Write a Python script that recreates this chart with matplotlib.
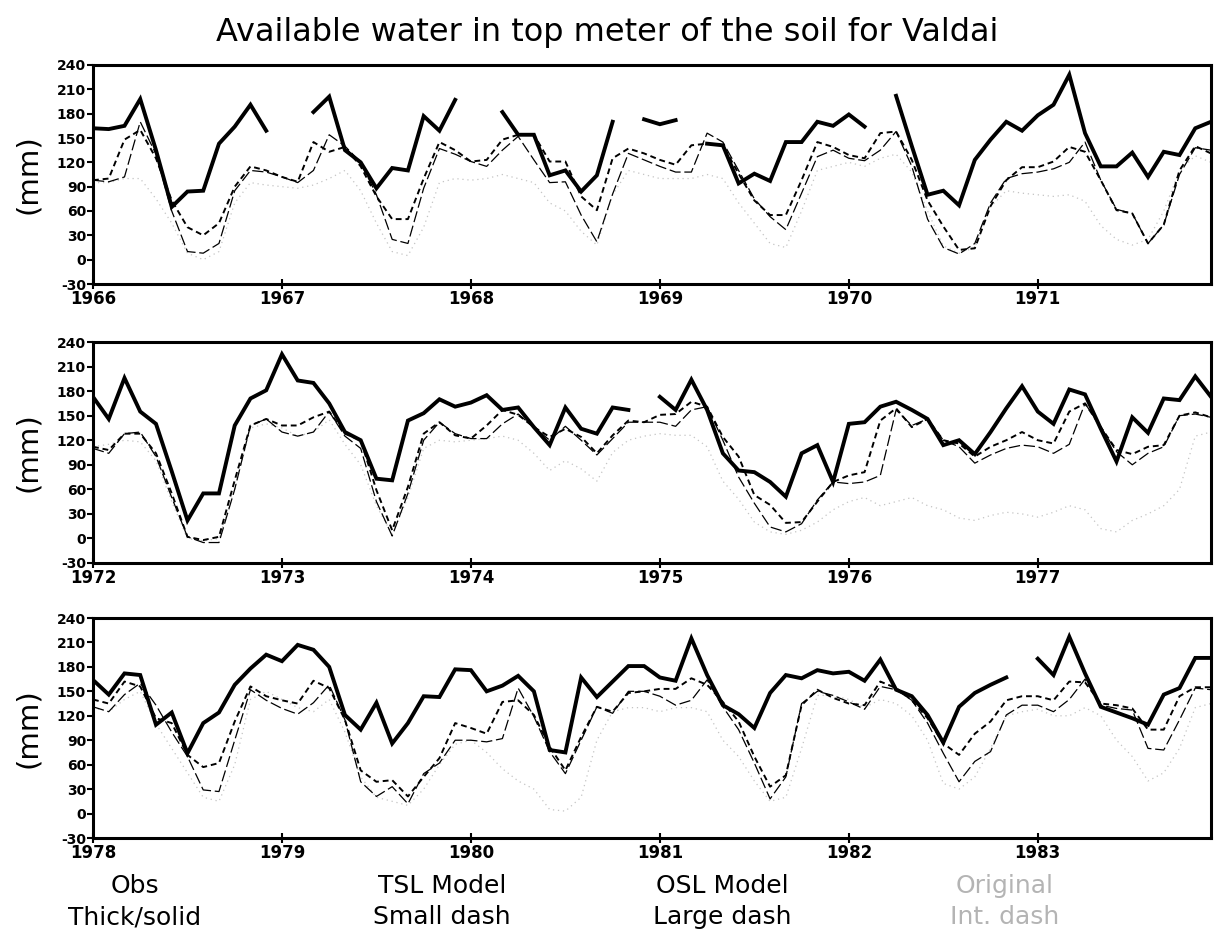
import numpy as np
import matplotlib
matplotlib.use("Agg")
from matplotlib import pyplot as plt

nan = np.nan

# monthly values (mm), 72 months per panel, Jan of first year = month 0
panel_years = [1966, 1972, 1978]

obs_1 = [162, 161, 165, 198, 135, 65, 84, 85, 143, 164, 191, 159,
         nan, nan, 182, 201, 135, 120, 88, 113, 110, 177, 159, 197,
         nan, nan, 182, 154, 154, 104, 110, 84, 104, 170, nan, 173,
         167, 172, nan, 143, 141, 94, 106, 97, 145, 145, 170, 165,
         179, 164, nan, 202, 140, 80, 85, 67, 123, 148, 170, 159,
         178, 191, 228, 156, 115, 115, 132, 102, 133, 129, 162, 170]
tsl_1 = [98, 100, 148, 160, 125, 73, 40, 30, 45, 90, 115, 110,
         102, 96, 145, 133, 139, 115, 78, 50, 50, 100, 145, 135,
         121, 123, 148, 154, 154, 121, 121, 78, 61, 125, 137, 131,
         123, 117, 141, 143, 141, 106, 73, 55, 55, 98, 145, 139,
         129, 125, 156, 158, 123, 73, 41, 12, 14, 66, 98, 114,
         114, 121, 139, 133, 98, 61, 57, 20, 43, 110, 140, 131]
osl_1 = [98, 96, 102, 170, 130, 60, 10, 8, 20, 85, 110, 108,
         102, 95, 110, 154, 140, 120, 80, 25, 20, 88, 137, 130,
         121, 115, 135, 152, 123, 95, 96, 55, 22, 81, 131, 123,
         115, 108, 108, 156, 145, 110, 75, 53, 37, 82, 127, 135,
         125, 122, 135, 158, 115, 50, 15, 7, 20, 70, 100, 106,
         108, 112, 120, 145, 98, 62, 57, 20, 43, 105, 138, 135]
orig_1 = [95, 95, 100, 100, 75, 45, 8, 0, 10, 70, 95, 92,
          90, 88, 92, 100, 110, 85, 45, 10, 5, 40, 95, 100,
          98, 100, 105, 100, 95, 70, 60, 35, 18, 80, 110, 105,
          100, 100, 100, 105, 100, 70, 45, 20, 15, 60, 110, 115,
          120, 115, 125, 130, 108, 60, 17, 8, 15, 65, 85, 82,
          80, 78, 80, 72, 42, 25, 18, 25, 60, 110, 128, 120]

obs_2 = [173, 146, 196, 155, 140, 82, 22, 55, 55, 138, 171, 181,
         225, 193, 190, 165, 130, 120, 73, 71, 144, 153, 170, 161,
         166, 175, 157, 160, 136, 114, 160, 134, 128, 160, 157, nan,
         173, 157, 194, 157, 104, 83, 81, 69, 51, 104, 114, 69,
         140, 142, 161, 167, 157, 146, 114, 120, 103, 130, 159, 186,
         155, 140, 182, 176, 134, 94, 148, 129, 171, 169, 198, 173]
tsl_2 = [112, 108, 128, 128, 104, 55, 2, -2, 2, 71, 138, 146,
         138, 138, 148, 155, 128, 120, 59, 10, 63, 128, 142, 126,
         122, 138, 157, 151, 136, 124, 134, 124, 104, 126, 144, 142,
         151, 152, 167, 161, 124, 100, 53, 41, 19, 20, 45, 69,
         77, 81, 144, 159, 136, 146, 120, 116, 100, 112, 120, 130,
         120, 116, 155, 165, 136, 108, 103, 112, 114, 150, 154, 148]
osl_2 = [110, 104, 128, 130, 100, 50, 2, -5, -5, 60, 138, 146,
         130, 125, 130, 155, 125, 110, 45, 3, 55, 120, 142, 128,
         122, 122, 140, 152, 136, 120, 137, 120, 102, 122, 142, 142,
         142, 137, 157, 161, 120, 75, 43, 14, 8, 18, 47, 69,
         67, 69, 77, 157, 138, 146, 120, 112, 92, 102, 110, 114,
         112, 104, 115, 165, 136, 106, 90, 104, 112, 150, 152, 148]
orig_2 = [112, 115, 120, 118, 95, 45, 0, -3, 0, 60, 135, 140,
          135, 125, 130, 145, 115, 90, 40, 5, 50, 110, 120, 118,
          120, 122, 125, 120, 104, 83, 95, 85, 70, 105, 120, 125,
          128, 126, 126, 112, 70, 48, 20, 8, 5, 10, 20, 35,
          45, 50, 40, 45, 50, 40, 35, 25, 22, 28, 32, 30,
          26, 32, 40, 35, 12, 8, 22, 30, 40, 60, 125, 130]

obs_3 = [164, 146, 172, 170, 109, 124, 74, 111, 124, 158, 178, 195,
         187, 207, 201, 180, 121, 103, 136, 86, 111, 144, 143, 177,
         176, 150, 157, 169, 150, 78, 75, 167, 143, 162, 181, 181,
         167, 163, 215, 170, 133, 122, 105, 148, 170, 166, 176, 172,
         174, 163, 189, 152, 144, 121, 87, 131, 148, 158, 167, nan,
         190, 170, 217, 172, 131, 124, 117, 109, 146, 154, 191, 191]
tsl_3 = [140, 135, 162, 156, 117, 111, 72, 57, 62, 113, 156, 144,
         139, 135, 163, 154, 115, 53, 39, 41, 21, 45, 68, 111,
         105, 98, 137, 139, 121, 82, 53, 94, 131, 125, 148, 150,
         153, 153, 166, 158, 137, 113, 70, 33, 47, 133, 152, 142,
         135, 133, 162, 154, 139, 117, 86, 72, 98, 113, 139, 144,
         144, 139, 162, 161, 135, 133, 129, 103, 103, 144, 155, 155]
osl_3 = [131, 125, 146, 160, 133, 100, 70, 29, 27, 90, 152, 139,
         129, 122, 136, 158, 115, 39, 21, 33, 12, 49, 62, 90,
         90, 88, 92, 154, 119, 76, 49, 90, 131, 123, 150, 150,
         144, 133, 139, 164, 131, 103, 62, 18, 45, 135, 150, 145,
         137, 128, 156, 152, 139, 111, 74, 39, 64, 76, 121, 133,
         133, 125, 140, 165, 133, 129, 127, 80, 78, 115, 154, 152]
orig_3 = [130, 125, 140, 150, 110, 80, 50, 20, 15, 60, 140, 150,
          140, 130, 125, 140, 100, 45, 20, 15, 10, 30, 60, 85,
          90, 75, 55, 40, 30, 5, 3, 20, 90, 125, 130, 130,
          125, 130, 130, 125, 90, 70, 40, 15, 20, 80, 145, 145,
          140, 130, 140, 135, 120, 90, 37, 30, 45, 80, 120, 125,
          128, 120, 120, 130, 120, 90, 70, 40, 50, 80, 130, 135]

panels = [
    (obs_1, tsl_1, osl_1, orig_1),
    (obs_2, tsl_2, osl_2, orig_2),
    (obs_3, tsl_3, osl_3, orig_3),
]

legend_top = ["Obs", "TSL Model", "OSL Model", "Original"]
legend_bot = ["Thick/solid", "Small dash", "Large dash", "Int. dash"]
legend_x = [135, 442, 722, 1005]
legend_col = ["black", "black", "black", "#b4b4b4"]

yticks = np.arange(-30, 241, 30)

plt.rcParams["axes.unicode_minus"] = False
plt.rcParams["font.family"] = "DejaVu Sans"

W, H = 1215, 938
fig = plt.figure(figsize=(W / 100, H / 100), dpi=100)

# panel boxes in pixels: (top, bottom)
boxes = [(65, 284), (342, 563), (618, 838)]
left_px, right_px = 93, 1211

months = np.arange(72)

for (top, bot), start, series in zip(boxes, panel_years, panels):
    ax = fig.add_axes([left_px / W, 1 - bot / H, (right_px - left_px) / W, (bot - top) / H])
    obs, tsl, osl, orig = [np.array(s, dtype=float) for s in series]

    ax.plot(months, orig, color="#c4c4c4", lw=0.9, ls=(0, (1, 3)), zorder=1)
    ax.plot(months, osl, color="black", lw=0.9, ls=(0, (9, 3)), zorder=2)
    ax.plot(months, tsl, color="black", lw=1.4, ls=(0, (3, 2)), zorder=3)
    ax.plot(months, obs, color="black", lw=2.8, solid_joinstyle="miter", zorder=4)

    ax.set_xlim(0, 71)
    ax.set_ylim(-30, 240)
    ax.set_yticks(yticks)
    ax.set_yticklabels([str(v) for v in yticks], fontsize=10, fontweight="bold")
    ax.set_xticks(np.arange(0, 72, 12))
    ax.set_xticklabels([str(start + i) for i in range(6)], fontsize=12, fontweight="bold")
    ax.tick_params(axis="y", direction="out", length=4, width=1.5, pad=1)
    ax.tick_params(axis="x", direction="inout", length=7, width=1.5, pad=1)
    for sp in ax.spines.values():
        sp.set_linewidth(2.2)

    fig.text(28 / W, 1 - (top + bot) / 2 / H, "(mm)", rotation=90,
             ha="center", va="center", fontsize=21)

fig.text(0.5, 1 - 32 / H, "Available water in top meter of the soil for Valdai",
         ha="center", va="center", fontsize=23)

for lx, t1, t2, c in zip(legend_x, legend_top, legend_bot, legend_col):
    fig.text(lx / W, 1 - 886 / H, t1, ha="center", va="center", fontsize=18, color=c)
    fig.text(lx / W, 1 - 917 / H, t2, ha="center", va="center", fontsize=18, color=c)

fig.savefig("out.png", dpi=100)
